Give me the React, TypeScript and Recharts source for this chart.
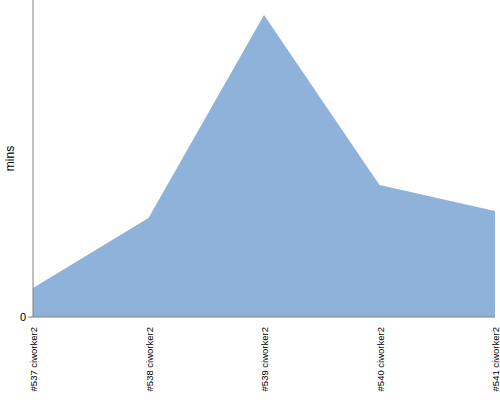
import { Area, AreaChart, XAxis, YAxis } from "recharts";

const BUILDS = ["#537 ciworker2", "#538 ciworker2", "#539 ciworker2", "#540 ciworker2", "#541 ciworker2"];
const MINS = [0.96, 3.28, 10.0, 4.37, 3.51];
const Y_TICKS = [0];

const data = BUILDS.map((name, i) => ({ name, mins: MINS[i] }));

function BuildTick({ x, y, payload }: any) {
  return (
    <g transform={`translate(${x},${y})`}>
      <text
        transform="rotate(-90)"
        x={-2}
        y={0}
        dy={4}
        textAnchor="end"
        fill="#000"
        fontSize={9.5}
        fontFamily="Liberation Sans, Arial, sans-serif"
      >
        {payload.value}
      </text>
    </g>
  );
}

function MinsLabel({ viewBox }: any) {
  const cy = viewBox.y + viewBox.height / 2;
  return (
    <text
      transform={`translate(14,${cy}) rotate(-90)`}
      textAnchor="middle"
      fill="#000"
      fontSize={12}
      fontFamily="Liberation Sans, Arial, sans-serif"
    >
      mins
    </text>
  );
}

export default function App() {
  return (
    <div style={{ position: "absolute", left: 0, top: 0, width: 500, height: 400, background: "#fff" }}>
      <AreaChart width={500} height={400} data={data} margin={{ top: 0, right: 5, left: 0, bottom: 0 }}>
        <XAxis
          dataKey="name"
          height={83}
          interval={0}
          tickLine={false}
          axisLine={{ stroke: "#808080" }}
          tick={<BuildTick />}
        />
        <YAxis
          width={33}
          domain={[0, 10.5]}
          ticks={Y_TICKS}
          tickSize={5}
          axisLine={{ stroke: "#808080" }}
          tickLine={{ stroke: "#808080" }}
          tick={{ fill: "#000", fontSize: 11, fontFamily: "Liberation Sans, Arial, sans-serif" }}
          label={<MinsLabel />}
        />
        <Area
          type="linear"
          dataKey="mins"
          stroke="none"
          fill="#8fb2db"
          fillOpacity={1}
          isAnimationActive={false}
        />
      </AreaChart>
    </div>
  );
}
